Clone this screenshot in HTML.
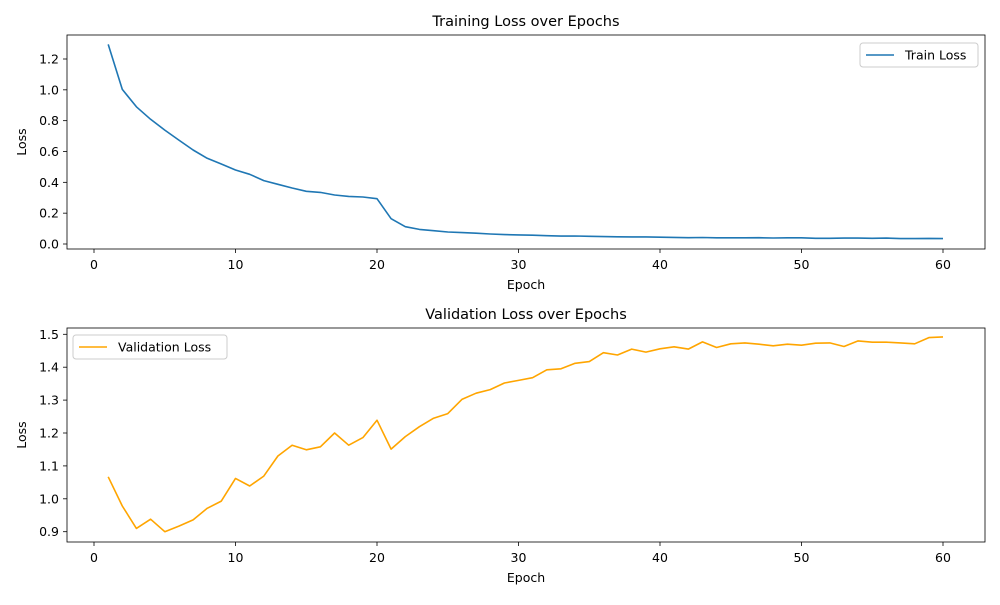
<!DOCTYPE html>
<html><head><meta charset="utf-8"><style>
body{margin:0;background:#fff;font-family:"Liberation Sans","DejaVu Sans",sans-serif}
svg text{font-family:"DejaVu Sans","Liberation Sans",sans-serif;fill:#000}
</style></head><body>
<svg id="chart" width="1000" height="600" xmlns="http://www.w3.org/2000/svg"></svg>
<script>
const epochs = Array.from({length:60},(_,i)=>i+1);
const trainLoss = [1.295,1.003,0.890,0.809,0.739,0.674,0.610,0.556,0.519,0.480,0.452,0.411,0.387,0.363,0.342,0.335,0.318,0.309,0.305,0.294,0.164,0.112,0.095,0.086,0.078,0.074,0.070,0.065,0.061,0.059,0.057,0.054,0.051,0.052,0.050,0.048,0.047,0.046,0.046,0.044,0.043,0.041,0.042,0.040,0.040,0.040,0.041,0.039,0.040,0.040,0.037,0.037,0.038,0.038,0.037,0.038,0.035,0.035,0.036,0.035];
const valLoss = [1.067,0.978,0.910,0.938,0.900,0.917,0.936,0.971,0.993,1.062,1.039,1.069,1.130,1.163,1.149,1.158,1.200,1.163,1.186,1.239,1.151,1.189,1.219,1.245,1.259,1.302,1.321,1.332,1.352,1.360,1.368,1.392,1.395,1.412,1.417,1.444,1.437,1.455,1.446,1.456,1.462,1.455,1.477,1.460,1.471,1.474,1.470,1.465,1.470,1.467,1.473,1.474,1.463,1.480,1.476,1.476,1.474,1.471,1.490,1.492];
const xTicks = [0,10,20,30,40,50,60];
const trainTicks = [0.0,0.2,0.4,0.6,0.8,1.0,1.2];
const valTicks = [0.9,1.0,1.1,1.2,1.3,1.4,1.5];

const NS="http://www.w3.org/2000/svg";
const svg=document.getElementById('chart');
function mk(tag,attrs,parent,text){const e=document.createElementNS(NS,tag);for(const k in attrs)e.setAttribute(k,attrs[k]);if(text!==undefined)e.textContent=text;(parent||svg).appendChild(e);return e;}
const sx=v=>94+(v-0)*(943-94)/60;

function panel(cfg){
  const g=mk('g',{});
  
  
  const sy=v=>cfg.y0px-(v-cfg.y0)*(cfg.y0px-cfg.y1px)/(cfg.y1-cfg.y0);
  const t=mk('text',{x:526,y:cfg.top-9,'font-size':14.5,'text-anchor':'middle'},g,cfg.title);
  
  
  xTicks.forEach(v=>{const x=sx(v);mk('line',{x1:x,x2:x,y1:cfg.bot,y2:cfg.bot+4,stroke:'#000','stroke-width':0.8},g);
    const l=mk('text',{x:x,y:cfg.bot+20,'font-size':12.5,'text-anchor':'middle'},g,String(v));
    
    });
  cfg.ticks.forEach(v=>{const y=sy(v);mk('line',{x1:63,x2:67,y1:y,y2:y,stroke:'#000','stroke-width':0.8},g);
    const l=mk('text',{x:59,y:y+4.5,'font-size':12.5,'text-anchor':'end'},g,v.toFixed(1));
    
    });
  const xl=mk('text',{x:526,y:cfg.bot+40,'font-size':12.5,'text-anchor':'middle'},g,'Epoch');
  
  
  const yc=(cfg.top+cfg.bot)/2;
  const yl=mk('text',{x:26,y:yc,'font-size':12.5,'text-anchor':'middle',transform:`rotate(-90 26 ${yc})`},g,'Loss');
  
  
  const pts=epochs.map((e,i)=>sx(e).toFixed(1)+','+sy(cfg.data[i]).toFixed(1)).join(' ');
  const pl=mk('polyline',{points:pts,fill:'none',stroke:cfg.color,'stroke-width':1.6,'stroke-linejoin':'round'},g);
  
  
  mk('rect',{x:67,y:cfg.top,width:918,height:cfg.bot-cfg.top,fill:'none',stroke:'#000','stroke-width':0.8},g);
  const lg=mk('g',{},g);
  
  
  const L=cfg.legend;
  mk('rect',{x:L.x,y:L.y,width:L.w,height:24,rx:3,fill:'#fff',stroke:'#ccc','stroke-width':1},lg);
  mk('line',{x1:L.x+6,x2:L.x+34,y1:L.y+12,y2:L.y+12,stroke:cfg.color,'stroke-width':1.6},lg);
  const lt=mk('text',{x:L.x+45,y:L.y+16.5,'font-size':12.5},lg,L.label);
  
  
}
panel({name:'train-loss-chart',title:'Training Loss over Epochs',top:35,bot:249,y0:0,y1:1.2,y0px:244,y1px:59,ticks:trainTicks,data:trainLoss,color:'#1f77b4',lineName:'train-loss-line',legend:{x:860,y:43,w:118,label:'Train Loss'}});
panel({name:'validation-loss-chart',title:'Validation Loss over Epochs',top:328,bot:542,y0:0.9,y1:1.5,y0px:531.7,y1px:334.3,ticks:valTicks,data:valLoss,color:'#ffa500',lineName:'validation-loss-line',legend:{x:73,y:335,w:154,label:'Validation Loss'}});
</script>
</body></html>
